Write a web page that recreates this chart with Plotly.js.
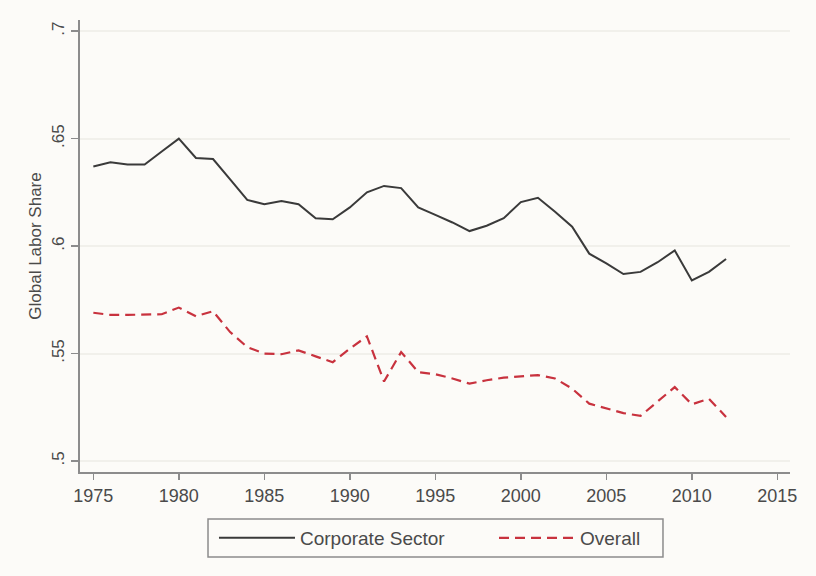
<!DOCTYPE html>
<html>
<head>
<meta charset="utf-8">
<script src="https://cdn.plot.ly/plotly-3.0.1.min.js"></script>
<style>
  html, body { margin: 0; padding: 0; background: #fcfbf8; }
  #chart { width: 816px; height: 576px; }
</style>
</head>
<body>
<div id="chart"></div>
<script>
// Global labor share, 1975-2012
const years = [1975, 1976, 1977, 1978, 1979, 1980, 1981, 1982, 1983, 1984,
               1985, 1986, 1987, 1988, 1989, 1990, 1991, 1992, 1993, 1994,
               1995, 1996, 1997, 1998, 1999, 2000, 2001, 2002, 2003, 2004,
               2005, 2006, 2007, 2008, 2009, 2010, 2011, 2012];

const corporateSector = [0.637, 0.639, 0.638, 0.638, 0.644, 0.650, 0.641, 0.6405, 0.631, 0.6215,
                         0.6195, 0.621, 0.6195, 0.613, 0.6125, 0.618, 0.625, 0.628, 0.627, 0.618,
                         0.6145, 0.611, 0.607, 0.6095, 0.613, 0.6205, 0.6225, 0.616, 0.609, 0.5965,
                         0.592, 0.587, 0.588, 0.5925, 0.598, 0.584, 0.588, 0.594];

const overall = [0.569, 0.568, 0.568, 0.568, 0.5683, 0.5714, 0.5674, 0.5697, 0.560, 0.553,
                 0.550, 0.5497, 0.5515, 0.5487, 0.546, 0.5523, 0.558, 0.537, 0.5507, 0.5414,
                 0.5404, 0.5384, 0.536, 0.5376, 0.5388, 0.5394, 0.540, 0.5384, 0.5337, 0.5267,
                 0.5244, 0.5223, 0.521, 0.5275, 0.5344, 0.5264, 0.529, 0.5205];

const seriesNames = ['Corporate Sector', 'Overall'];

const xTicks = [1975, 1980, 1985, 1990, 1995, 2000, 2005, 2010, 2015];
const yTicks = [0.5, 0.55, 0.6, 0.65, 0.7];
const yTickText = ['.5', '.55', '.6', '.65', '.7'];

const textColor = '#4a4a4a';
const axisColor = '#8c8c8c';
const bg = '#fcfbf8';
const font = 'Liberation Sans, Arial, sans-serif';

const traces = [
  {
    x: years, y: corporateSector, name: seriesNames[0],
    type: 'scatter', mode: 'lines', legend: 'legend',
    line: { color: '#3a3a3a', width: 2 }
  },
  {
    x: years, y: overall, name: seriesNames[1],
    type: 'scatter', mode: 'lines', legend: 'legend2',
    line: { color: '#c8323e', width: 2.2, dash: '10px,6px' }
  }
];

// one frame around both legend entries
const legendFrame = {
  type: 'rect', xref: 'paper', yref: 'paper',
  x0: 0.1803, x1: 0.8211, y0: -0.188, y1: -0.104,
  line: { color: axisColor, width: 1.5 }, fillcolor: 'rgba(0,0,0,0)'
};

const legendStyle = (x) => ({
  orientation: 'h',
  x: x, xanchor: 'left',
  y: -0.146, yanchor: 'middle',
  borderwidth: 0,
  bgcolor: 'rgba(0,0,0,0)',
  font: { size: 19, color: textColor },
  itemwidth: 76
});

const layout = {
  width: 816, height: 576,
  margin: { l: 80, r: 26, t: 20, b: 104 },
  paper_bgcolor: bg,
  plot_bgcolor: bg,
  font: { family: font, color: textColor, size: 18 },
  showlegend: true,
  xaxis: {
    range: [1974.22, 2015.74],
    tickvals: xTicks,
    ticktext: xTicks.map(String),
    ticks: 'outside', ticklen: 6, tickwidth: 1.5, tickcolor: axisColor,
    showline: true, linecolor: axisColor, linewidth: 2,
    showgrid: false, zeroline: false,
    tickfont: { size: 18, color: textColor }
  },
  yaxis: {
    range: [0.4949, 0.7052],
    tickvals: yTicks,
    ticktext: yTickText,
    tickangle: -90,
    ticks: 'outside', ticklen: 7, tickwidth: 1.5, tickcolor: axisColor,
    showline: true, linecolor: axisColor, linewidth: 2,
    showgrid: true, gridcolor: '#f1f0eb', gridwidth: 2,
    zeroline: false,
    tickfont: { size: 17, color: textColor },
    title: { text: 'Global Labor Share', font: { size: 17, color: textColor }, standoff: 3 }
  },
  legend: legendStyle(0.1887),
  legend2: legendStyle(0.5831),
  shapes: [legendFrame]
};

Plotly.newPlot('chart', traces, layout, { displayModeBar: false, staticPlot: true });
</script>
</body>
</html>
